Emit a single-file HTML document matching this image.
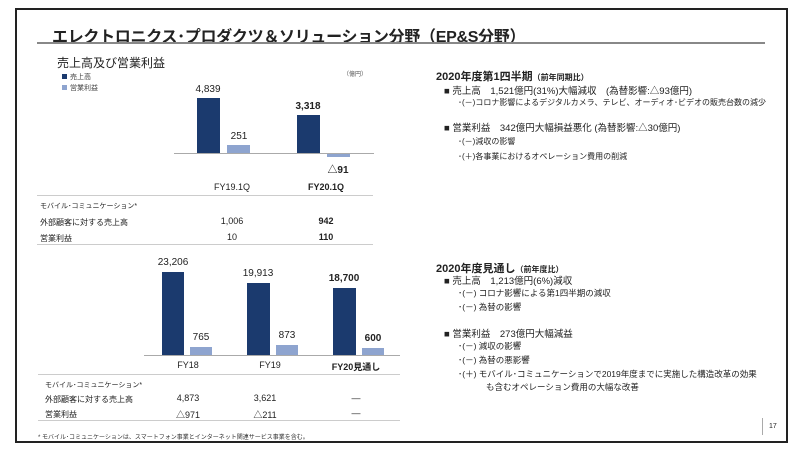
<!DOCTYPE html>
<html><head><meta charset="utf-8"><style>
body{margin:0;width:800px;height:450px;background:#fff;position:relative;overflow:hidden;font-family:"Liberation Sans","Noto Sans CJK JP",sans-serif;color:#222}
.a{position:absolute;white-space:nowrap}
.d{background:#1b3a6e;position:absolute}
.l{background:#8ea4cf;position:absolute}
.c{transform:translateX(-50%)}
.b{font-weight:bold}
</style></head><body>
<div class="a" style="left:15px;top:8px;width:769px;height:431px;border:2px solid #222"></div>
<div class="a" style="left:52px;top:23px;font-size:16px;font-weight:bold;letter-spacing:-0.3px">エレクトロニクス･プロダクツ＆ソリューション分野（EP&amp;S分野）</div>
<div class="a" style="left:37px;top:42px;width:728px;height:2px;background:#888"></div>
<div class="a" style="left:57px;top:54px;font-size:12px">売上高及び営業利益</div>
<div class="a" style="left:62px;top:74px;width:5px;height:5px;background:#1b3a6e"></div>
<div class="a" style="left:70px;top:72px;font-size:7px;color:#444">売上高</div>
<div class="a" style="left:62px;top:85px;width:5px;height:5px;background:#8ea4cf"></div>
<div class="a" style="left:70px;top:83px;font-size:7px;color:#444">営業利益</div>
<div class="a" style="left:343px;top:69px;font-size:6px;color:#555">（億円）</div>
<div class="d" style="left:197px;top:98px;width:23px;height:55px"></div>
<div class="l" style="left:227px;top:145px;width:23px;height:8px"></div>
<div class="d" style="left:297px;top:115px;width:23px;height:38px"></div>
<div class="l" style="left:327px;top:154px;width:23px;height:3px"></div>
<div class="a" style="left:174px;top:153px;width:200px;height:1px;background:#aaa"></div>
<div class="a c" style="left:208px;top:84px;font-size:10px">4,839</div>
<div class="a c" style="left:239px;top:131px;font-size:10px">251</div>
<div class="a c b" style="left:308px;top:101px;font-size:10px">3,318</div>
<div class="a c b" style="left:338px;top:161px;font-size:10px">△91</div>
<div class="a c" style="left:232px;top:182px;font-size:9px">FY19.1Q</div>
<div class="a c b" style="left:326px;top:182px;font-size:9px">FY20.1Q</div>
<div class="a" style="left:37px;top:195px;width:336px;height:1px;background:#ccc"></div>
<div class="a" style="left:40px;top:201px;font-size:7px">モバイル･コミュニケーション*</div>
<div class="a" style="left:40px;top:217px;font-size:8px">外部顧客に対する売上高</div>
<div class="a c" style="left:232px;top:216px;font-size:9px">1,006</div>
<div class="a c b" style="left:326px;top:216px;font-size:9px">942</div>
<div class="a" style="left:40px;top:233px;font-size:8px">営業利益</div>
<div class="a c" style="left:232px;top:232px;font-size:9px">10</div>
<div class="a c b" style="left:326px;top:232px;font-size:9px">110</div>
<div class="a" style="left:37px;top:244px;width:336px;height:1px;background:#ccc"></div>
<div class="d" style="left:162px;top:272px;width:22px;height:83px"></div>
<div class="l" style="left:190px;top:347px;width:22px;height:8px"></div>
<div class="d" style="left:247px;top:283px;width:23px;height:72px"></div>
<div class="l" style="left:276px;top:345px;width:22px;height:10px"></div>
<div class="d" style="left:333px;top:288px;width:23px;height:67px"></div>
<div class="l" style="left:362px;top:348px;width:22px;height:7px"></div>
<div class="a" style="left:144px;top:355px;width:256px;height:1px;background:#aaa"></div>
<div class="a c" style="left:173px;top:257px;font-size:10px">23,206</div>
<div class="a c" style="left:201px;top:332px;font-size:10px">765</div>
<div class="a c" style="left:258px;top:268px;font-size:10px">19,913</div>
<div class="a c" style="left:287px;top:330px;font-size:10px">873</div>
<div class="a c b" style="left:344px;top:273px;font-size:10px">18,700</div>
<div class="a c b" style="left:373px;top:333px;font-size:10px">600</div>
<div class="a c" style="left:188px;top:360px;font-size:9px">FY18</div>
<div class="a c" style="left:270px;top:360px;font-size:9px">FY19</div>
<div class="a c b" style="left:356px;top:360px;font-size:9px">FY20見通し</div>
<div class="a" style="left:38px;top:374px;width:362px;height:1px;background:#ccc"></div>
<div class="a" style="left:45px;top:380px;font-size:7px">モバイル･コミュニケーション*</div>
<div class="a" style="left:45px;top:394px;font-size:8px">外部顧客に対する売上高</div>
<div class="a c" style="left:188px;top:393px;font-size:9px">4,873</div>
<div class="a c" style="left:265px;top:393px;font-size:9px">3,621</div>
<div class="a c" style="left:356px;top:393px;font-size:9px">—</div>
<div class="a" style="left:45px;top:409px;font-size:8px">営業利益</div>
<div class="a c" style="left:188px;top:408px;font-size:9px">△971</div>
<div class="a c" style="left:265px;top:408px;font-size:9px">△211</div>
<div class="a c" style="left:356px;top:408px;font-size:9px">—</div>
<div class="a" style="left:38px;top:420px;width:362px;height:1px;background:#ccc"></div>
<div class="a" style="left:38px;top:432px;font-size:6px;color:#333">* モバイル･コミュニケーションは、スマートフォン事業とインターネット関連サービス事業を含む。</div>
<div class="a b" style="left:436px;top:68px;font-size:11px">2020年度第1四半期<span style="font-size:8px">（前年同期比）</span></div>
<div class="a" style="left:444px;top:83px;font-size:9.5px">■ 売上高　1,521億円(31%)大幅減収　(為替影響:△93億円)</div>
<div class="a" style="left:458px;top:97px;font-size:8px">･(－)コロナ影響によるデジタルカメラ、テレビ、オーディオ･ビデオの販売台数の減少</div>
<div class="a" style="left:444px;top:120px;font-size:9.5px">■ 営業利益　342億円大幅損益悪化 (為替影響:△30億円)</div>
<div class="a" style="left:458px;top:136px;font-size:8px">･(－)減収の影響</div>
<div class="a" style="left:458px;top:151px;font-size:8px">･(＋)各事業におけるオペレーション費用の削減</div>
<div class="a b" style="left:436px;top:260px;font-size:11px">2020年度見通し<span style="font-size:8px">（前年度比）</span></div>
<div class="a" style="left:444px;top:273px;font-size:9.5px">■ 売上高　1,213億円(6%)減収</div>
<div class="a" style="left:458px;top:287px;font-size:8.5px">･(－) コロナ影響による第1四半期の減収</div>
<div class="a" style="left:458px;top:301px;font-size:8.5px">･(－) 為替の影響</div>
<div class="a" style="left:444px;top:326px;font-size:9.5px">■ 営業利益　273億円大幅減益</div>
<div class="a" style="left:458px;top:340px;font-size:8.5px">･(－) 減収の影響</div>
<div class="a" style="left:458px;top:354px;font-size:8.5px">･(－) 為替の悪影響</div>
<div class="a" style="left:458px;top:368px;font-size:8.5px">･(＋) モバイル･コミュニケーションで2019年度までに実施した構造改革の効果</div>
<div class="a" style="left:486px;top:381px;font-size:8.5px">も含むオペレーション費用の大幅な改善</div>
<div class="a" style="left:762px;top:418px;width:1px;height:17px;background:#aaa"></div>
<div class="a" style="left:769px;top:423px;font-size:7px">17</div>
</body></html>
